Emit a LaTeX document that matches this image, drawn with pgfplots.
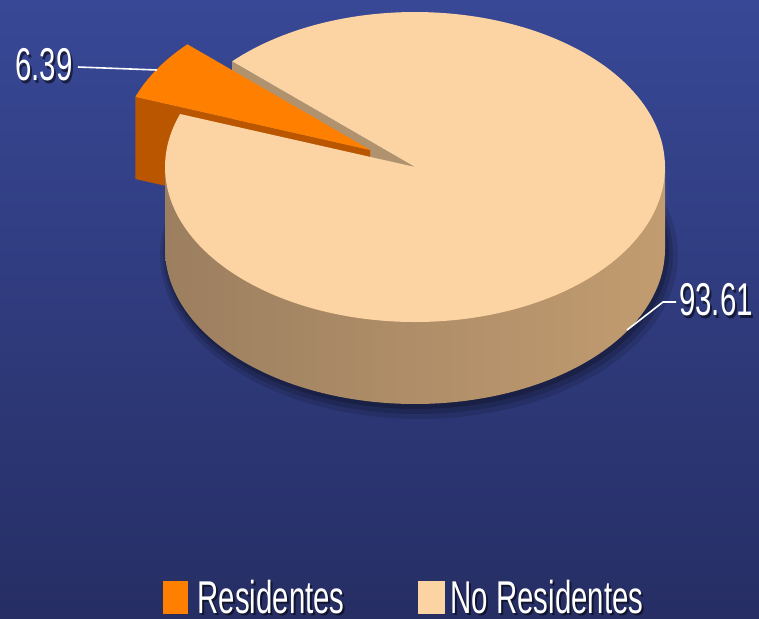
\documentclass[border=0pt]{standalone}
\usepackage{pgfplots}
\pgfplotsset{compat=1.18}
\usepackage{pgfplotstable}
\usepackage{fontspec}
\setmainfont{Liberation Sans}[FakeStretch=0.64]

\definecolor{bgtop}{RGB}{56,72,150}
\definecolor{bgbot}{RGB}{38,46,100}
\definecolor{orangetop}{RGB}{255,127,0}
\definecolor{orangeside}{RGB}{186,86,0}
\definecolor{beigetop}{RGB}{252,211,163}
\definecolor{sideL}{RGB}{156,127,96}
\definecolor{sideR}{RGB}{194,156,112}
\definecolor{facetan}{RGB}{176,146,110}

\pgfplotstableread{
label value
Residentes 6.39
NoResidentes 93.61
}\piedata
\pgfplotstablegetelem{0}{value}\of\piedata \let\vRes\pgfplotsretval
\pgfplotstablegetelem{1}{value}\of\piedata \let\vNo\pgfplotsretval
% geometry (pixel units, y downward)
\def\cx{415}\def\cy{167}\def\ra{250}\def\rb{155}\def\hh{82}
\pgfmathsetmacro\tA{137}
\pgfmathsetmacro\tB{\tA+360*\vRes/(\vRes+\vNo)}
\pgfmathsetmacro\tAA{\tA+360}
\pgfmathsetmacro\tM{(\tA+\tB)/2}
\pgfmathsetmacro\dx{0.21*\ra*cos(\tM)}
\pgfmathsetmacro\dy{-0.21*\rb*sin(\tM)}
\pgfmathsetmacro\sx{\cx+\dx}
\pgfmathsetmacro\sy{\cy+\dy}
\pgfmathsetmacro\pAx{\cx+\ra*cos(\tA)}
\pgfmathsetmacro\pAy{\cy-\rb*sin(\tA)}
\pgfmathsetmacro\pAyb{\pAy+\hh}
\pgfmathsetmacro\cyb{\cy+\hh}
\pgfmathsetmacro\qBx{\sx+\ra*cos(\tB)}
\pgfmathsetmacro\qBy{\sy-\rb*sin(\tB)}
\pgfmathsetmacro\qByb{\qBy+\hh}
\pgfmathsetmacro\syb{\sy+\hh}
\pgfmathsetmacro\xL{\cx-\ra}
\pgfmathsetmacro\xR{\cx+\ra}

\begin{document}%
\begin{tikzpicture}
\begin{axis}[width=379.5pt,height=309pt,scale only axis,
  xmin=0,xmax=759,ymin=0,ymax=618,y dir=reverse,hide axis,clip=false]
% background
\addplot[draw=none, mark=none, top color=bgtop, bottom color=bgbot]
  coordinates {(0,0) (759,0) (759,618) (0,618)} -- cycle;
% soft shadow
\addplot[draw=none, mark=none, fill=black, opacity=0.12, domain=0:360, samples=90, variable=\t]
  ({\cx+4+(\ra+9)*cos(t)}, {\cy+\hh+6-(\rb+9)*sin(t)}) -- cycle;
\addplot[draw=none, mark=none, fill=black, opacity=0.15, domain=0:360, samples=90, variable=\t]
  ({\cx+3+(\ra+5)*cos(t)}, {\cy+\hh+5-(\rb+5)*sin(t)}) -- cycle;
\addplot[draw=none, mark=none, fill=black, opacity=0.2, domain=0:360, samples=90, variable=\t]
  ({\cx+2+(\ra+2)*cos(t)}, {\cy+\hh+3-(\rb+2)*sin(t)}) -- cycle;
% main pie: radial face at start angle
\addplot[draw=none, mark=none, fill=facetan]
  coordinates {(\cx,\cy) (\pAx,\pAy) (\pAx,\pAyb) (\cx,\cyb)} -- cycle;
% exploded slice: radial face
\addplot[draw=none, mark=none, fill=orangeside]
  coordinates {(\sx,\sy) (\qBx,\qBy) (\qBx,\qByb) (\sx,\syb)} -- cycle;
% exploded slice: top
\addplot[draw=none, mark=none, fill=orangetop, domain=\tA:\tB, samples=30, variable=\t]
  ({\sx+\ra*cos(t)}, {\sy-\rb*sin(t)}) -- (axis cs:\sx,\sy) -- cycle;
% main pie: side
\addplot[draw=none, mark=none, left color=sideL, right color=sideR, domain=180:360, samples=120, variable=\t]
  ({\cx+\ra*cos(t)}, {\cy+\hh-\rb*sin(t)}) -- (axis cs:\xR,\cy) -- (axis cs:\xL,\cy) -- cycle;
% main pie: top
\addplot[draw=none, mark=none, fill=beigetop, domain=\tB:\tAA, samples=200, variable=\t]
  ({\cx+\ra*cos(t)}, {\cy-\rb*sin(t)}) -- (axis cs:\cx,\cy) -- cycle;
% leader lines
\draw[white, line width=0.8pt] (axis cs:78,67) -- (axis cs:157,70);
\draw[white, line width=0.8pt] (axis cs:676,302) -- (axis cs:663,302) -- (axis cs:627,330);
% value labels
\node[inner sep=0pt, text=black, opacity=0.55] at (axis cs:46,68) {\fontsize{23}{27}\selectfont 6.39};
\node[inner sep=0pt, text=white] at (axis cs:44,65) {\fontsize{23}{27}\selectfont 6.39};
\node[inner sep=0pt, text=black, opacity=0.55] at (axis cs:718,303) {\fontsize{23}{27}\selectfont 93.61};
\node[inner sep=0pt, text=white] at (axis cs:716,300) {\fontsize{23}{27}\selectfont 93.61};
% legend
\fill[orangetop] (axis cs:163,581) rectangle (axis cs:188,614);
\fill[beigetop] (axis cs:418,581) rectangle (axis cs:445,614);
\node[inner sep=0pt, anchor=base west, text=black, opacity=0.55] at (axis cs:199,615) {\fontsize{23}{27}\selectfont Residentes};
\node[inner sep=0pt, anchor=base west, text=white] at (axis cs:197,613) {\fontsize{23}{27}\selectfont Residentes};
\node[inner sep=0pt, anchor=base west, text=black, opacity=0.55] at (axis cs:452,615) {\fontsize{23}{27}\selectfont No Residentes};
\node[inner sep=0pt, anchor=base west, text=white] at (axis cs:450,613) {\fontsize{23}{27}\selectfont No Residentes};
\end{axis}
\end{tikzpicture}%
\end{document}
